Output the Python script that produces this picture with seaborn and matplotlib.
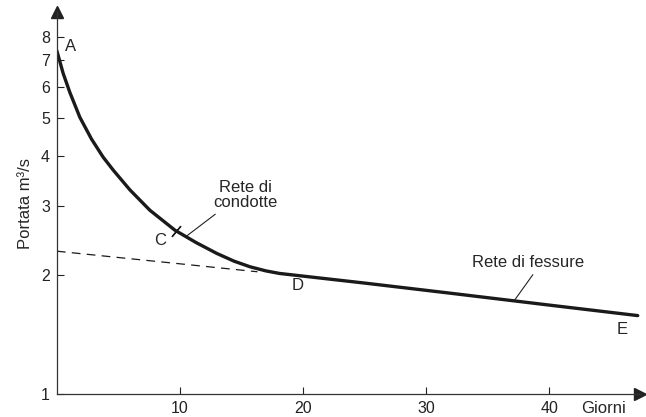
import seaborn as sns
import matplotlib.pyplot as plt
import pandas as pd
from matplotlib.ticker import NullLocator

# recession curve (days, discharge m3/s)
days = [0, 0.51, 1.06, 1.87, 2.82, 3.76, 4.58, 5.93, 7.56, 9.59, 11.3,
        13.0, 14.4, 15.7, 17.0, 18.1, 25.0, 32.0, 40.0, 47.2]
portata = [7.4, 6.49, 5.80, 5.02, 4.42, 3.98, 3.69, 3.29, 2.92, 2.60, 2.42,
           2.27, 2.17, 2.10, 2.05, 2.02, 1.91, 1.80, 1.68, 1.58]

# extrapolated fissure-network line (dashed)
days_dash = [0, 16.3]
portata_dash = [2.30, 2.04]

# labelled points
punti = ["A", "C", "D", "E"]
punti_x = [1.1, 8.4, 19.6, 45.9]
punti_y = [7.6, 2.45, 1.88, 1.46]
c_x, c_y = 9.7, 2.59

y_ticks = [1, 2, 3, 4, 5, 6, 7, 8]
x_ticks = [10, 20, 30, 40]

df = pd.DataFrame({"giorni": days, "portata": portata})

sns.set_style("ticks")
plt.rcParams['font.family'] = ['Liberation Sans', 'DejaVu Sans']

fig = plt.figure(figsize=(6.46, 4.17), dpi=100)
ax = fig.add_axes([0.088, 0.055, 0.903, 0.916])

sns.lineplot(data=df, x="giorni", y="portata", color="#1a1a1a", linewidth=2.4,
             sort=False, estimator=None, ax=ax, solid_joinstyle="round")
sns.lineplot(x=days_dash, y=portata_dash, color="#1a1a1a", linewidth=0.9,
             ax=ax, sort=False, estimator=None)
ax.lines[-1].set_dashes([7, 5])

ax.set_yscale("log")
ax.set_xlim(0, 47.4)
ax.set_ylim(1, 9.27)
ax.set_yticks(y_ticks)
ax.set_yticklabels([str(v) for v in y_ticks])
ax.yaxis.set_minor_locator(NullLocator())
ax.set_xticks(x_ticks)
ax.set_xticklabels([str(v) for v in x_ticks])
ax.tick_params(direction="in", length=5, width=0.8, labelsize=11.5, colors="#222222")
ax.tick_params(axis="y", pad=5)
ax.tick_params(axis="x", pad=5)

for s in ["top", "right"]:
    ax.spines[s].set_visible(False)
for s in ["left", "bottom"]:
    ax.spines[s].set_linewidth(0.9)
    ax.spines[s].set_color("#333333")

# arrow heads on the axes
ax.plot(1, 0, ">", color="#222222", markersize=8, transform=ax.transAxes, clip_on=False)
ax.plot(0, 1, "^", color="#222222", markersize=8, transform=ax.transAxes, clip_on=False)

ax.set_xlabel("")
ax.set_ylabel("Portata m³/s", fontsize=12, labelpad=6)
ax.text(44.4, -0.038, "Giorni", fontsize=12, ha="center", va="center",
        transform=ax.get_xaxis_transform(), clip_on=False)

# point letters
for p, x, y in zip(punti, punti_x, punti_y):
    ax.text(x, y, p, fontsize=12, ha="center", va="center")

# small cross tick at C
ax.plot(c_x, c_y, marker=(2, 2, -40), markersize=10,
        color="#1a1a1a", markeredgewidth=1.0)

# annotations
ax.annotate("Rete di\ncondotte", xy=(10.6, 2.52), xytext=(15.3, 3.19),
            fontsize=12, ha="center", va="center", linespacing=1.0,
            arrowprops=dict(arrowstyle="-", color="#222222", lw=0.8,
                            shrinkA=1, shrinkB=0, relpos=(0.12, 0.0)))
ax.annotate("Rete di fessure", xy=(37.2, 1.73), xytext=(38.3, 2.15),
            fontsize=12, ha="center", va="center",
            arrowprops=dict(arrowstyle="-", color="#222222", lw=0.8,
                            shrinkA=1, shrinkB=0, relpos=(0.57, 0.0)))

plt.savefig("out.png", dpi=100)
